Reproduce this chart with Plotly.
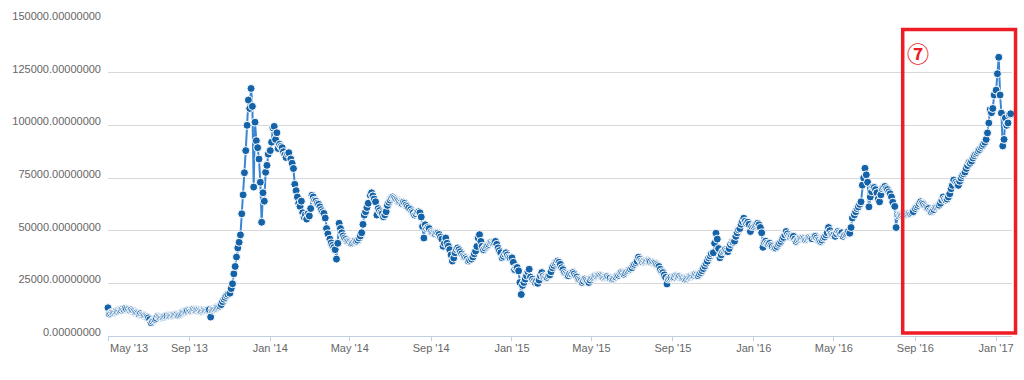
import datetime as dt
import plotly.graph_objects as go

# Closing price (JPY). One inner list per month, values on days 1, 3, 5, ...
prices_2013 = [  # May .. Dec 2013
    [13400, 10400, 10800, 11300, 11200, 11500, 11800, 11700, 12100, 12000, 12300, 12800, 12600, 13100, 12700],
    [12600, 12200, 12400, 11900, 11600, 11200, 11000, 10700, 10300, 10600, 10000, 9800, 9600, 9300, 9000],
    [8600, 7800, 6300, 7000, 7600, 7900, 8400, 9300, 9000, 8700, 8900, 9000, 9300, 9400, 9600],
    [9500, 9600, 9800, 9900, 10000, 10200, 10100, 9800, 10100, 10500, 11000, 11500, 11600, 11800, 12100],
    [12300, 12100, 12500, 12700, 12400, 12200, 12500, 12300, 12000, 11800, 12100, 12300, 12200, 12400, 12500],
    [12500, 9000, 12300, 12700, 12900, 13200, 13600, 13900, 14200, 14900, 16300, 17500, 18300, 19200, 19800],
    [20300, 22500, 24800, 29500, 33000, 37500, 41800, 44500, 48000, 58000, 67000, 77500, 88000, 100000, 112000],
    [108000, 117500, 109000, 70700, 101500, 92700, 89400, 84000, 73000, 54000, 68000, 64000, 77700, 81000, 86300],
]
prices_2014 = [
    [88000, 92000, 98800, 99500, 93300, 96500, 89000, 91000, 90000, 89400, 87500, 86000, 84700, 86500, 87000],
    [84000, 82000, 79500, 72000, 69000, 66000, 63000, 61500, 64000, 58500, 56500, 57500, 55500, 58000],
    [57000, 60500, 66800, 66000, 64500, 64000, 63000, 62500, 61300, 60000, 59000, 58200, 56000, 51000, 48500],
    [46000, 44200, 43000, 42000, 41000, 36500, 44000, 53500, 51000, 49000, 47500, 46500, 45800, 45000, 44800],
    [44500, 44000, 44200, 44800, 45200, 45000, 45500, 46500, 47500, 49000, 53000, 57400, 59000, 61000, 63000],
    [66800, 68000, 66500, 65000, 63700, 57400, 60500, 59500, 58500, 58000, 56600, 57500, 59000, 62000, 63500],
    [64500, 65500, 66000, 65500, 65000, 64500, 64000, 63500, 63200, 62900, 63500, 63000, 62200, 61500, 60800],
    [60000, 59000, 58500, 57400, 58000, 58800, 59000, 58500, 56500, 52000, 46500, 52800, 51000, 51500, 51000],
    [49500, 49000, 48800, 48500, 49000, 48800, 48200, 47000, 46000, 42600, 44000, 46500, 44000, 42600, 41000],
    [38500, 35600, 37000, 39500, 41000, 41800, 41000, 40000, 39000, 38000, 37500, 37100, 36500, 35600, 36000],
    [36500, 37500, 39000, 40300, 42500, 46500, 48100, 44900, 42600, 41000, 41800, 42600, 43000, 43500, 44200],
    [44500, 44200, 44500, 44900, 43500, 41800, 40500, 39500, 37100, 37800, 38800, 39500, 38500, 37500, 37100],
]
prices_2015 = [
    [37100, 35000, 31500, 32500, 32500, 30900, 25400, 19700, 24000, 25400, 27000, 28600, 30500, 31700, 28000],
    [27000, 26000, 25400, 26000, 25000, 26500, 28500, 30100, 28500, 27800, 28000, 27800, 28500, 29000],
    [30500, 32400, 33500, 34500, 35000, 35600, 35000, 34000, 32400, 31500, 30100, 29500, 29000, 28600, 29500],
    [29500, 30100, 29500, 28600, 28000, 27000, 26500, 26000, 25400, 26000, 27000, 26500, 26000, 25400, 26500],
    [27500, 27800, 28200, 28600, 28400, 28600, 28800, 28600, 28200, 27800, 28000, 28100, 28300, 27800, 27500],
    [27000, 27300, 27800, 28000, 28600, 28800, 29500, 30100, 29800, 29300, 29800, 30500, 31000, 31500, 31800],
    [32400, 33500, 34000, 34800, 35500, 37400, 36500, 35600, 35200, 35600, 35400, 35600, 35800, 35600, 35300],
    [35000, 34800, 34500, 34000, 33500, 33000, 31700, 30500, 30100, 29000, 27800, 24700, 27000, 27500, 27800],
    [27800, 28000, 28600, 28300, 28000, 28300, 27800, 27500, 27300, 27000, 27300, 27800, 28000, 28300, 28600],
    [28600, 28800, 29300, 29000, 28600, 29300, 30100, 31000, 32000, 33200, 34500, 35500, 37100, 38000, 39000],
    [39500, 44000, 48800, 46000, 41500, 37100, 38500, 40000, 40500, 41000, 40500, 40000, 41500, 43400, 44500],
    [44500, 45000, 47300, 49000, 50400, 51000, 53000, 54300, 55900, 54500, 53500, 54000, 53000, 49600, 52000],
]
prices_2016 = [
    [52000, 52500, 53000, 53500, 52800, 51500, 49000, 42100, 44500, 45000, 44000, 43500, 44000, 43000, 42500],
    [42000, 41800, 42500, 43500, 44000, 44900, 46000, 46800, 48000, 49600, 48500, 47500, 47000, 47300, 46800],
    [47300, 46000, 44900, 45500, 46000, 46500, 46300, 46500, 46200, 45700, 46000, 46500, 46800, 46500, 46200],
    [47000, 47300, 46500, 45700, 45500, 44900, 45500, 46500, 47000, 48000, 49000, 51500, 50000, 48500, 48000],
    [48000, 47300, 48500, 49600, 49000, 48500, 49000, 47300, 48000, 48500, 49000, 49600, 48800, 51500, 56000],
    [57500, 59000, 60500, 61300, 62500, 63700, 71600, 75000, 79600, 76500, 73000, 61300, 66000, 68500, 70700],
    [70500, 69500, 68000, 65000, 63700, 67000, 69900, 70500, 71000, 70000, 69500, 68400, 67500, 66000, 63500],
    [61500, 51500, 57400, 57000, 57500, 57400, 57800, 58000, 57500, 57800, 58000, 58200, 58000, 58500, 59000],
    [60500, 61300, 62000, 62800, 63700, 63000, 62500, 61800, 61300, 60800, 60500, 59500, 59000, 59500, 60000],
    [61000, 61300, 61800, 62100, 63000, 64500, 66000, 65000, 64500, 65000, 66000, 67500, 69900, 71500, 74000],
    [73000, 72200, 71500, 73500, 75000, 76200, 77000, 77800, 79500, 80900, 82400, 82000, 83000, 84500, 85600],
    [86500, 87100, 87800, 88500, 89500, 90200, 91000, 92000, 93300, 96400, 101100, 107400, 106000, 108000, 114400],
]
prices_2017 = [
    [116700, 124500, 132300, 114400, 105800, 90200, 93300, 103500, 100000, 101100, 105000, 105500],
]
first_months = [(2013, 5), (2014, 1), (2015, 1), (2016, 1), (2017, 1)]
year_blocks = [prices_2013, prices_2014, prices_2015, prices_2016, prices_2017]

x_ticks = ["2013-05-01", "2013-09-01", "2014-01-01", "2014-05-01", "2014-09-01", "2015-01-01",
           "2015-05-01", "2015-09-01", "2016-01-01", "2016-05-01", "2016-09-01", "2017-01-01"]
x_tick_text = ["", "Sep '13", "Jan '14", "May '14", "Sep '14", "Jan '15",
               "May '15", "Sep '15", "Jan '16", "May '16", "Sep '16", "Jan '17"]
first_tick_label = "May '13"
x_range = ["2013-05-01", "2017-01-25"]

dates, values = [], []
for (year, month0), block in zip(first_months, year_blocks):
    for k, month_vals in enumerate(block):
        start = dt.date(year, month0 + k, 1)
        for i, v in enumerate(month_vals):
            dates.append(start + dt.timedelta(days=2 * i))
            values.append(v)

fig = go.Figure()
fig.add_trace(go.Scatter(
    x=dates, y=values, mode="lines+markers",
    line=dict(color="#3a86d4", width=2),
    marker=dict(size=8, color="#1462a8", line=dict(color="#ffffff", width=1)),
    cliponaxis=False, showlegend=False, hoverinfo="x+y",
))

label_font = dict(family="Liberation Sans, Arial, sans-serif", size=11, color="#666666")
fig.update_layout(
    width=1024, height=380,
    margin=dict(l=108, r=10, t=16, b=44),
    paper_bgcolor="#ffffff", plot_bgcolor="#ffffff",
    xaxis=dict(
        type="date", range=x_range,
        tickvals=x_ticks, ticktext=x_tick_text,
        showgrid=False, zeroline=False,
        showline=True, linecolor="#c0d0e0", linewidth=1,
        ticks="outside", ticklen=4, tickcolor="#c0d0e0",
        ticklabelstandoff=-2, tickfont=label_font,
    ),
    yaxis=dict(
        range=[0, 150000], tickmode="linear", tick0=0, dtick=25000,
        tickformat=".8f", showgrid=True, gridcolor="#d8d8d8", gridwidth=1,
        zeroline=False, showline=False, ticks="", ticklabelstandoff=6,
        ticklabelshift=-4, tickfont=label_font,
    ),
    shapes=[dict(
        type="rect", xref="paper", yref="paper",
        x0=0.8791, x1=1.0039, y0=0.0094, y1=0.9703,
        line=dict(color="#ee1c25", width=3.5), fillcolor="rgba(0,0,0,0)",
    )],
    annotations=[
        dict(text="<b>⑦</b>", xref="paper", yref="paper", x=0.8962, y=0.90,
             showarrow=False, xanchor="center", yanchor="middle",
             font=dict(family="Noto Sans CJK JP", size=22, color="#ee1c25")),
        dict(text=first_tick_label, x=x_ticks[0], xref="x", yref="paper", y=0,
             yshift=-12, xanchor="left", yanchor="middle", showarrow=False,
             font=label_font),
    ],
)

fig.write_html("out.html", config={"displayModeBar": False},
               post_script="document.body.style.margin='0';")
